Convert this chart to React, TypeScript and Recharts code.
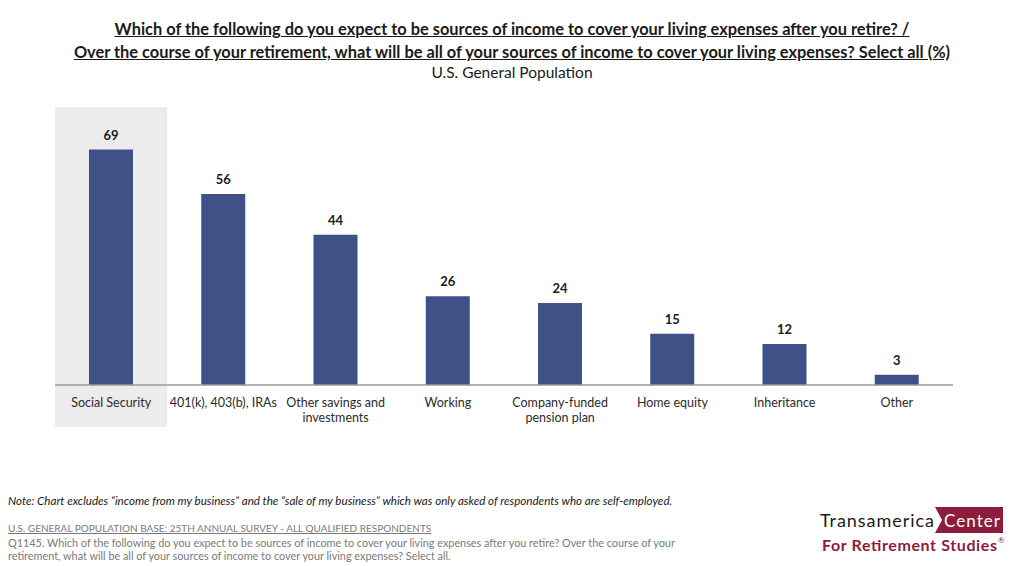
import React from "react";
import { BarChart, Bar, XAxis, YAxis, LabelList, ReferenceArea } from "recharts";

// Share of respondents naming each source of retirement income (%)
const categories = [
  "Social Security",
  "401(k), 403(b), IRAs",
  "Other savings and\ninvestments",
  "Working",
  "Company-funded\npension plan",
  "Home equity",
  "Inheritance",
  "Other",
];
const values = [69, 56, 44, 26, 24, 15, 12, 3];

const data = categories.map((name, i) => ({ name, value: values[i] }));

const FONT = "Lato, 'Open Sans', sans-serif";
const BAR = "#3f5187";

const CategoryTick = (props: any) => {
  const { x, y, payload } = props;
  const lines = String(payload.value).split("\n");
  return (
    <g transform={`translate(${x},${y})`}>
      {lines.map((line: string, i: number) => (
        <text
          key={i}
          x={0}
          y={0}
          dy={14 + i * 15}
          textAnchor="middle"
          fontFamily={FONT}
          fontSize={12.5}
          fill="#2b2b2b"
        >
          {line}
        </text>
      ))}
    </g>
  );
};

export default function App() {
  return (
    <div
      style={{
        position: "absolute",
        left: 0,
        top: 0,
        width: 1024,
        height: 566,
        background: "#fff",
        fontFamily: FONT,
        overflow: "hidden",
      }}
    >
      <div
        style={{
          position: "absolute",
          top: 17,
          left: 0,
          width: 1024,
          textAlign: "center",
          fontWeight: 700,
          fontSize: 16.4,
          lineHeight: "23px",
          color: "#1a1a1a",
          textDecoration: "underline",
        }}
      >
        <div>Which of the following do you expect to be sources of income to cover your living expenses after you retire? /</div>
        <div>Over the course of your retirement, what will be all of your sources of income to cover your living expenses? Select all (%)</div>
      </div>
      <div
        style={{
          position: "absolute",
          top: 63,
          left: 0,
          width: 1024,
          textAlign: "center",
          fontSize: 15.5,
          color: "#1a1a1a",
        }}
      >
        U.S. General Population
      </div>

      <div style={{ position: "absolute", left: 0, top: 0 }}>
        <BarChart
          width={1024}
          height={566}
          data={data}
          margin={{ top: 112, right: 71, bottom: 151, left: 55 }}
          barCategoryGap={0}
        >
          <ReferenceArea
            x1="Social Security"
            x2="Social Security"
            y1={-12.3}
            y2={81.5}
            ifOverflow="visible"
            fill="#ececec"
            fillOpacity={1}
            stroke="none"
          />
          <XAxis
            dataKey="name"
            interval={0}
            tickLine={false}
            axisLine={{ stroke: "#9a9a9a", strokeWidth: 1.5 }}
            tick={<CategoryTick />}
            height={30}
          />
          <YAxis hide domain={[0, 80]} />
          <Bar dataKey="value" fill={BAR} barSize={44} isAnimationActive={false}>
            <LabelList
              dataKey="value"
              position="top"
              offset={10}
              style={{ fontFamily: FONT, fontWeight: 700, fontSize: 13, fill: "#1a1a1a" }}
            />
          </Bar>
        </BarChart>
      </div>

      <div
        style={{
          position: "absolute",
          left: 8,
          top: 494,
          fontSize: 11.6,
          fontStyle: "italic",
          color: "#1a1a1a",
        }}
      >
        Note: Chart excludes “income from my business” and the “sale of my business” which was only asked of respondents who are self-employed.
      </div>
      <div
        style={{
          position: "absolute",
          left: 8,
          top: 522,
          width: 690,
          fontSize: 10.85,
          lineHeight: "13.5px",
          color: "#7a7a7a",
        }}
      >
        <div style={{ textDecoration: "underline", fontSize: 10 }}>U.S. GENERAL POPULATION BASE: 25TH ANNUAL SURVEY - ALL QUALIFIED RESPONDENTS</div>
        <div>
          Q1145. Which of the following do you expect to be sources of income to cover your living expenses after you retire? Over the course of your
          <br />
          retirement, what will be all of your sources of income to cover your living expenses? Select all.
        </div>
      </div>

      {/* Transamerica Center wordmark */}
      <div style={{ position: "absolute", left: 818, top: 507, width: 200, height: 50 }}>
        <svg width={200} height={50}>
          <text x={2} y={20} fontFamily={FONT} fontSize={18} fill="#1a1a1a" textLength={114}>
            Transamerica
          </text>
          <path d="M117 0 L185 0 L185 26 L117 26 L124 13 Z" fill="#8c1d3c" />
          <text x={126} y={20} fontFamily={FONT} fontSize={17} fill="#fff" textLength={56}>
            Center
          </text>
          <text x={4} y={44} fontFamily={FONT} fontSize={16} fontWeight={700} fill="#8c1d3c" textLength={175}>
            For Retirement Studies
          </text>
          <text x={180} y={36} fontFamily={FONT} fontSize={8} fill="#8c1d3c">
            ®
          </text>
        </svg>
      </div>
    </div>
  );
}
